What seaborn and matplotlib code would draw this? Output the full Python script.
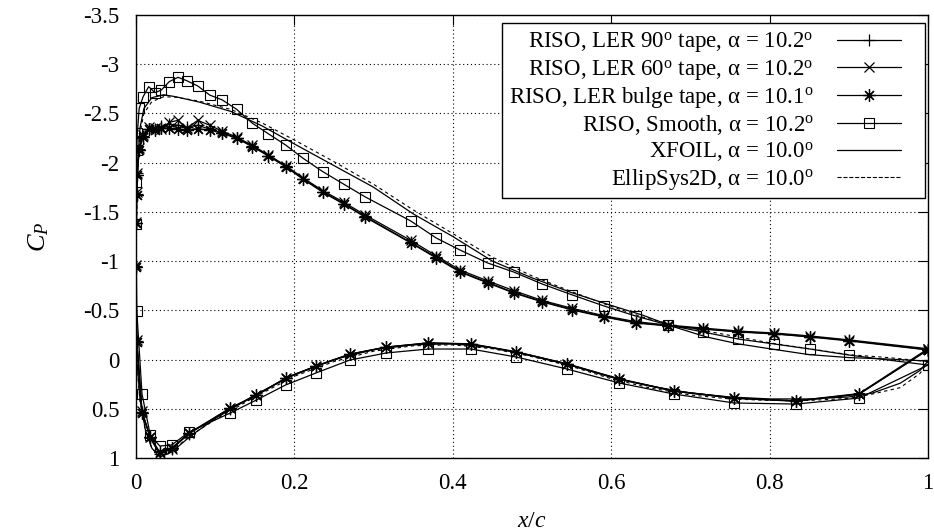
import matplotlib
matplotlib.use("Agg")
import matplotlib.pyplot as plt
import seaborn as sns
from matplotlib.lines import Line2D
from matplotlib.legend_handler import HandlerLine2D

# ---------------- data ----------------
# experimental tap positions: upper surface (TE -> LE), lower surface (LE -> TE)
x_exp_upper = [1.0, 0.900, 0.851, 0.806, 0.760, 0.716, 0.672, 0.631, 0.591, 0.551,
               0.513, 0.477, 0.444, 0.409, 0.379, 0.347, 0.289, 0.262, 0.236, 0.211,
               0.189, 0.167, 0.147, 0.127, 0.109, 0.093, 0.078, 0.064, 0.053, 0.042,
               0.032, 0.024, 0.016, 0.009, 0.004, 0.0017, 0.0008, 0.0, 0.0]
x_exp_lower = [0.001, 0.0076, 0.018, 0.030, 0.045, 0.067, 0.119, 0.152, 0.189, 0.227,
               0.270, 0.316, 0.369, 0.423, 0.480, 0.544, 0.610, 0.679, 0.755, 0.833,
               0.913, 1.0]

cp_tape90_upper = [-0.100, -0.195, -0.232, -0.262, -0.285, -0.312, -0.345, -0.375, -0.438, -0.508,
                   -0.590, -0.682, -0.785, -0.895, -1.040, -1.190, -1.455, -1.585, -1.705, -1.838,
                   -1.962, -2.072, -2.168, -2.252, -2.305, -2.340, -2.380, -2.360, -2.380, -2.390,
                   -2.370, -2.340, -2.345, -2.270, -2.140, -1.890, -1.680, -1.390, -0.950]
cp_tape90_lower = [-0.190, 0.530, 0.800, 0.960, 0.910, 0.752, 0.498, 0.365, 0.192, 0.070,
                   -0.052, -0.125, -0.165, -0.155, -0.074, 0.048, 0.200, 0.322, 0.394, 0.424,
                   0.352, -0.100]

cp_tape60_upper = [-0.110, -0.200, -0.240, -0.270, -0.290, -0.320, -0.350, -0.385, -0.445, -0.520,
                   -0.600, -0.700, -0.800, -0.910, -1.055, -1.210, -1.470, -1.600, -1.715, -1.845,
                   -1.970, -2.080, -2.175, -2.260, -2.320, -2.380, -2.430, -2.350, -2.430, -2.410,
                   -2.340, -2.350, -2.360, -2.280, -2.150, -1.900, -1.700, -1.400, -0.960]
cp_tape60_lower = [-0.200, 0.520, 0.790, 0.950, 0.905, 0.750, 0.495, 0.362, 0.190, 0.068,
                   -0.054, -0.126, -0.170, -0.160, -0.080, 0.042, 0.195, 0.317, 0.389, 0.419,
                   0.345, -0.110]

cp_bulge_upper = [-0.097, -0.189, -0.229, -0.260, -0.280, -0.310, -0.341, -0.371, -0.432, -0.503,
                  -0.585, -0.676, -0.778, -0.889, -1.032, -1.184, -1.448, -1.580, -1.699, -1.831,
                  -1.959, -2.068, -2.162, -2.247, -2.298, -2.330, -2.345, -2.335, -2.340, -2.350,
                  -2.355, -2.330, -2.340, -2.264, -2.129, -1.875, -1.672, -1.384, -0.943]
cp_bulge_lower = [-0.182, 0.543, 0.787, 0.939, 0.898, 0.746, 0.492, 0.360, 0.187, 0.066,
                  -0.056, -0.128, -0.168, -0.158, -0.077, 0.045, 0.197, 0.319, 0.391, 0.421,
                  0.350, -0.097]

cp_smooth_upper = [0.056, -0.046, -0.107, -0.158, -0.209, -0.280, -0.351, -0.442, -0.544, -0.656,
                   -0.767, -0.889, -0.981, -1.113, -1.235, -1.407, -1.654, -1.783, -1.908, -2.044,
                   -2.179, -2.294, -2.400, -2.542, -2.637, -2.687, -2.779, -2.833, -2.867, -2.823,
                   -2.738, -2.711, -2.772, -2.670, -2.552, -2.298, -2.129, -1.807, -1.380]
cp_smooth_lower = [-0.493, 0.350, 0.766, 0.878, 0.868, 0.736, 0.543, 0.411, 0.258, 0.137,
                   0.005, -0.067, -0.107, -0.107, -0.026, 0.096, 0.238, 0.350, 0.441, 0.452,
                   0.391, 0.056]

# computations: upper (TE -> LE), lower (LE -> TE)
x_cfd_upper = [1.0, 0.95, 0.9, 0.85, 0.8, 0.76, 0.72, 0.68, 0.66, 0.64, 0.6, 0.55, 0.5, 0.45,
               0.4, 0.35, 0.3, 0.25, 0.2, 0.16, 0.12, 0.08, 0.05, 0.035, 0.02, 0.01, 0.005,
               0.002, 0.0005, 0.0]
x_cfd_lower = [0.001, 0.005, 0.012, 0.02, 0.03, 0.045, 0.07, 0.1, 0.15, 0.2, 0.25, 0.3, 0.35,
               0.4, 0.45, 0.5, 0.55, 0.6, 0.65, 0.7, 0.75, 0.8, 0.85, 0.9, 0.93, 0.965, 0.99, 1.0]

cp_xfoil_upper = [0.015, -0.005, -0.020, -0.050, -0.110, -0.160, -0.230, -0.330, -0.390, -0.450,
                  -0.550, -0.680, -0.830, -1.000, -1.250, -1.480, -1.750, -1.970, -2.190, -2.370,
                  -2.520, -2.615, -2.670, -2.690, -2.660, -2.550, -2.350, -2.000, -1.300, -0.500]
cp_xfoil_lower = [0.000, 0.400, 0.720, 0.900, 0.990, 0.940, 0.770, 0.600, 0.360, 0.150,
                  0.000, -0.100, -0.150, -0.160, -0.120, -0.040, 0.060, 0.180, 0.270, 0.340,
                  0.380, 0.400, 0.400, 0.380, 0.340, 0.240, 0.110, 0.015]

cp_ellip_upper = [0.020, -0.020, -0.050, -0.110, -0.170, -0.230, -0.290, -0.350, -0.390, -0.430,
                  -0.540, -0.690, -0.850, -1.040, -1.280, -1.520, -1.780, -2.010, -2.230, -2.400,
                  -2.540, -2.625, -2.665, -2.670, -2.620, -2.500, -2.300, -1.950, -1.250, -0.450]
cp_ellip_lower = [0.020, 0.420, 0.730, 0.900, 0.980, 0.930, 0.765, 0.610, 0.380, 0.170,
                  0.020, -0.085, -0.140, -0.150, -0.110, -0.030, 0.070, 0.195, 0.290, 0.360,
                  0.400, 0.415, 0.415, 0.395, 0.350, 0.285, 0.140, 0.020]

labels = [
    r"RISO, LER 90$^{\mathrm{o}}$ tape, α = 10.2$^{\mathrm{o}}$",
    r"RISO, LER 60$^{\mathrm{o}}$ tape, α = 10.2$^{\mathrm{o}}$",
    r"RISO, LER bulge tape, α = 10.1$^{\mathrm{o}}$",
    r"RISO, Smooth, α = 10.2$^{\mathrm{o}}$",
    r"XFOIL, α = 10.0$^{\mathrm{o}}$",
    r"EllipSys2D, α = 10.0$^{\mathrm{o}}$",
]
x_ticks = [0, 0.2, 0.4, 0.6, 0.8, 1]
x_ticklabels = ["0", "0.2", "0.4", "0.6", "0.8", "1"]
y_ticks = [-3.5, -3, -2.5, -2, -1.5, -1, -0.5, 0, 0.5, 1]
y_ticklabels = ["-3.5", "-3", "-2.5", "-2", "-1.5", "-1", "-0.5", "0", "0.5", "1"]

# ---------------- style ----------------
sns.set_theme(style="white")
plt.rcParams["font.family"] = ["Liberation Serif", "DejaVu Serif"]
plt.rcParams["mathtext.fontset"] = "custom"
plt.rcParams["mathtext.rm"] = "Liberation Serif"
plt.rcParams["mathtext.it"] = "Liberation Serif:italic"
plt.rcParams["text.color"] = "black"
plt.rcParams["axes.labelcolor"] = "black"
plt.rcParams["xtick.color"] = "black"
plt.rcParams["ytick.color"] = "black"


class ShortLineHandler(HandlerLine2D):
    """Draw the legend sample over the left part of the handle box only."""
    frac = 0.79

    def create_artists(self, legend, orig_handle, xdescent, ydescent,
                       width, height, fontsize, trans):
        return super().create_artists(legend, orig_handle, xdescent, ydescent,
                                      width * self.frac, height, fontsize, trans)


fig = plt.figure(figsize=(9.34, 5.31), dpi=100)
ax = fig.add_axes([136 / 934, 1 - 458 / 531, 792 / 934, 443 / 531])

ax.grid(True, linestyle=(0, (1, 2.5)), color="black", linewidth=0.8)
ax.set_axisbelow(True)

series = [
    (x_exp_upper + x_exp_lower, cp_tape90_upper + cp_tape90_lower,
     dict(marker="+", markersize=9, markeredgewidth=0.9)),
    (x_exp_upper + x_exp_lower, cp_tape60_upper + cp_tape60_lower,
     dict(marker="x", markersize=7, markeredgewidth=0.9)),
    (x_exp_upper + x_exp_lower, cp_bulge_upper + cp_bulge_lower,
     dict(marker=(8, 2, 0), markersize=9, markeredgewidth=0.9)),
    (x_exp_upper + x_exp_lower, cp_smooth_upper + cp_smooth_lower,
     dict(marker="s", markersize=6.5, markeredgewidth=0.8, markerfacecolor="none")),
    (x_cfd_upper + x_cfd_lower, cp_xfoil_upper + cp_xfoil_lower, dict()),
    (x_cfd_upper + x_cfd_lower, cp_ellip_upper + cp_ellip_lower, dict()),
]

handles = []
for i, (xs, ys, mk) in enumerate(series):
    sns.lineplot(x=xs, y=ys, sort=False, estimator=None, color="black",
                 linewidth=0.9, ax=ax, markeredgecolor="black", **mk)
    ln = ax.lines[-1]
    if i == 5:
        ln.set_linestyle((0, (3, 3)))
        ln.set_linewidth(0.8)
    handles.append(Line2D([], [], color="black", linewidth=ln.get_linewidth(),
                          linestyle=ln.get_linestyle(), **mk,
                          markeredgecolor="black"))

ax.set_xlim(0, 1)
ax.set_ylim(1, -3.5)
ax.set_xticks(x_ticks)
ax.set_xticklabels(x_ticklabels)
ax.set_yticks(y_ticks)
ax.set_yticklabels(y_ticklabels)
ax.tick_params(direction="in", length=7, width=0.8, top=True, right=True,
               labelsize=16.5)
ax.tick_params(axis="x", pad=11)
ax.tick_params(axis="y", pad=12)
for s in ax.spines.values():
    s.set_color("black")
    s.set_linewidth(1.0)

ax.set_xlabel(r"$x/c$", fontsize=17, labelpad=12)
ax.set_ylabel(r"$C_P$", fontsize=19, labelpad=23)

leg = ax.legend(handles, labels, loc="upper right", bbox_to_anchor=(0.996, 0.982),
                borderaxespad=0, markerfirst=False, frameon=True, fancybox=False,
                edgecolor="black", framealpha=1, fontsize=16.5, handlelength=3.55,
                handletextpad=1.0, labelspacing=0.12, borderpad=0.3,
                handler_map={Line2D: ShortLineHandler()})
leg.get_frame().set_linewidth(1.0)

fig.savefig("out.png", dpi=100)
